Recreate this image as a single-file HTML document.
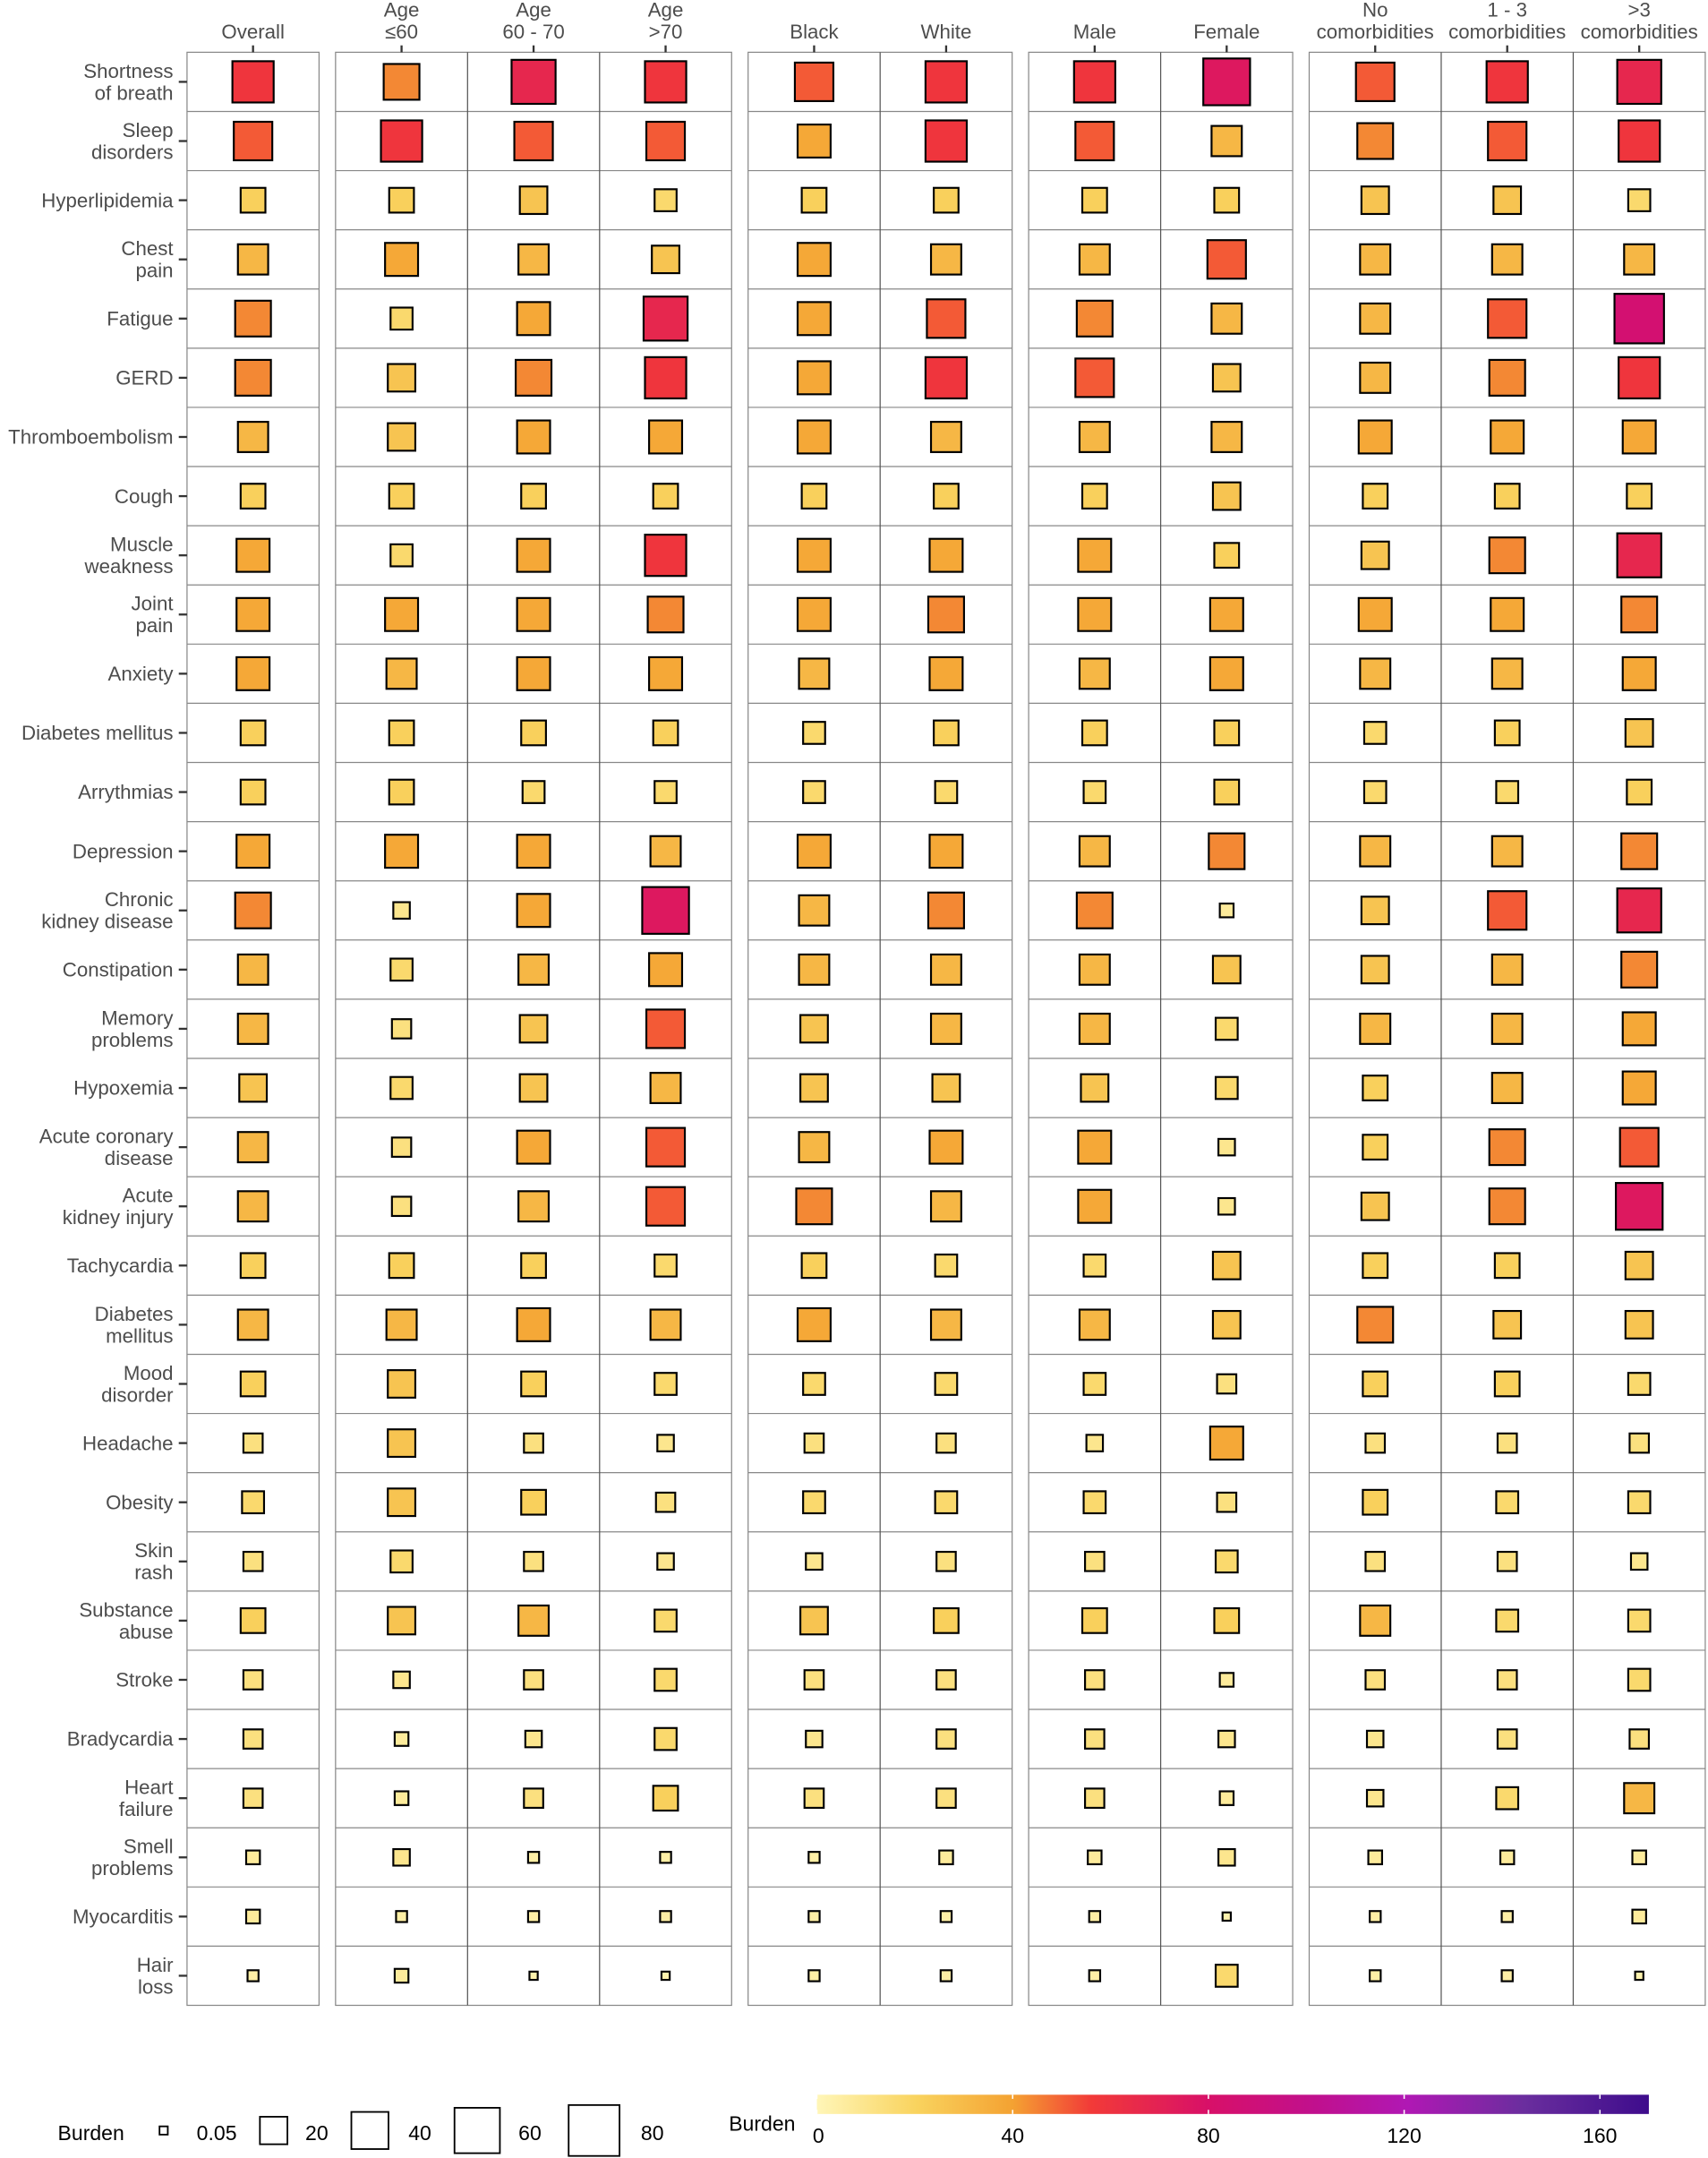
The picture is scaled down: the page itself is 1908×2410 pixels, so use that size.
<!DOCTYPE html>
<html><head><meta charset="utf-8"><style>
html,body{margin:0;padding:0;background:#fff}
svg{display:block}
text{font-family:"Liberation Sans",Arial,sans-serif;fill:#4d4d4d}
</style></head><body>
<svg id="s" width="1908" height="2410" viewBox="0 0 1242 1569" preserveAspectRatio="none" xmlns="http://www.w3.org/2000/svg">
<defs>
<linearGradient id="g" x1="0" x2="1" y1="0" y2="0">
<stop offset="0" stop-color="#FFF6B8"/>
<stop offset="0.12" stop-color="#F9D35E"/>
<stop offset="0.235" stop-color="#F4A232"/>
<stop offset="0.33" stop-color="#F23A38"/>
<stop offset="0.47" stop-color="#D81068"/>
<stop offset="0.6" stop-color="#C0108E"/>
<stop offset="0.71" stop-color="#B018B4"/>
<stop offset="0.85" stop-color="#6A2E9E"/>
<stop offset="1" stop-color="#3E0C8C"/>
</linearGradient>
</defs>
<g id="root"></g>
</svg>
<script>
(function(){
var rows=[
["Shortness","of breath"],["Sleep","disorders"],["Hyperlipidemia"],["Chest","pain"],["Fatigue"],["GERD"],["Thromboembolism"],["Cough"],["Muscle","weakness"],["Joint","pain"],["Anxiety"],["Diabetes mellitus"],["Arrythmias"],["Depression"],["Chronic","kidney disease"],["Constipation"],["Memory","problems"],["Hypoxemia"],["Acute coronary","disease"],["Acute","kidney injury"],["Tachycardia"],["Diabetes","mellitus"],["Mood","disorder"],["Headache"],["Obesity"],["Skin","rash"],["Substance","abuse"],["Stroke"],["Bradycardia"],["Heart","failure"],["Smell","problems"],["Myocarditis"],["Hair","loss"]];
var S=[
[30,26,32,30,28,30,30,34,28,30,32],
[28,30,28,28,24,30,28,22,26,28,30],
[18,18,20,16,18,18,18,18,20,20,16],
[22,24,22,20,24,22,22,28,22,22,22],
[26,16,24,32,24,28,26,22,22,28,36],
[26,20,26,30,24,30,28,20,22,26,30],
[22,20,24,24,24,22,22,22,24,24,24],
[18,18,18,18,18,18,18,20,18,18,18],
[24,16,24,30,24,24,24,18,20,26,32],
[24,24,24,26,24,26,24,24,24,24,26],
[24,22,24,24,22,24,22,24,22,22,24],
[18,18,18,18,16,18,18,18,16,18,20],
[18,18,16,16,16,16,16,18,16,16,18],
[24,24,24,22,24,24,22,26,22,22,26],
[26,12,24,34,22,26,26,10,20,28,32],
[22,16,22,24,22,22,22,20,20,22,26],
[22,14,20,28,20,22,22,16,22,22,24],
[20,16,20,22,20,20,20,16,18,22,24],
[22,14,24,28,22,24,24,12,18,26,28],
[22,14,22,28,26,22,24,12,20,26,34],
[18,18,18,16,18,16,16,20,18,18,20],
[22,22,24,22,24,22,22,20,26,20,20],
[18,20,18,16,16,16,16,14,18,18,16],
[14,20,14,12,14,14,12,24,14,14,14],
[16,20,18,14,16,16,16,14,18,16,16],
[14,16,14,12,12,14,14,16,14,14,12],
[18,20,22,16,20,18,18,18,22,16,16],
[14,12,14,16,14,14,14,10,14,14,16],
[14,10,12,16,12,14,14,12,12,14,14],
[14,10,14,18,14,14,14,10,12,16,22],
[10,12,8,8,8,10,10,12,10,10,10],
[10,8,8,8,8,8,8,6,8,8,10],
[8,10,6,6,8,8,8,16,8,8,6]];
var stops=[[0,[255,246,184]],[20,[249,211,94]],[40,[244,162,50]],[56,[242,58,56]],[80,[216,16,104]],[100,[192,16,142]],[120,[176,24,180]],[145,[106,46,158]],[170,[62,12,140]]];
function col(v){for(var i=1;i<stops.length;i++){if(v<=stops[i][0]){var a=stops[i-1],b=stops[i],t=(v-a[0])/(b[0]-a[0]);return "rgb("+a[1].map(function(c,k){return Math.round(c+(b[1][k]-c)*t)}).join(",")+")";}}return "rgb(62,12,140)";}
var cols=[184,292,388,484,592,688,796,892,1000,1096,1192];
var panels=[[136,232,[]],[244,532,[340,436]],[544,736,[640]],[748,940,[844]],[952,1240,[1048,1144]]];
var heads=[["Overall"],["Age","≤60"],["Age","60 - 70"],["Age",">70"],["Black"],["White"],["Male"],["Female"],["No","comorbidities"],["1 - 3","comorbidities"],[">3","comorbidities"]];
var T0=38,B0=1458,rh=(B0-T0)/33,h="";
panels.forEach(function(p){
 h+='<rect x="'+p[0]+'" y="'+T0+'" width="'+(p[1]-p[0])+'" height="'+(B0-T0)+'" fill="#fff" stroke="#888" stroke-width="0.8"/>';
 for(var r=1;r<33;r++){var y=T0+r*rh;h+='<line x1="'+p[0]+'" x2="'+p[1]+'" y1="'+y+'" y2="'+y+'" stroke="#888" stroke-width="0.8"/>';}
 p[2].forEach(function(x){h+='<line x1="'+x+'" x2="'+x+'" y1="'+T0+'" y2="'+B0+'" stroke="#555" stroke-width="0.8"/>';});
});
heads.forEach(function(t,i){var x=cols[i];
 h+='<line x1="'+x+'" x2="'+x+'" y1="33" y2="38" stroke="#333" stroke-width="1.5"/>';
 if(t.length==1)h+='<text x="'+x+'" y="28" font-size="14.5" text-anchor="middle">'+t[0]+'</text>';
 else h+='<text x="'+x+'" y="12" font-size="14.5" text-anchor="middle">'+t[0]+'</text><text x="'+x+'" y="28" font-size="14.5" text-anchor="middle">'+t[1]+'</text>';
});
rows.forEach(function(t,r){var cy=T0+(r+0.5)*rh;
 h+='<line x1="130" x2="136" y1="'+cy+'" y2="'+cy+'" stroke="#333" stroke-width="1.5"/>';
 if(t.length==1)h+='<text x="126" y="'+(cy+5)+'" font-size="14.5" text-anchor="end">'+t[0]+'</text>';
 else h+='<text x="126" y="'+(cy-3)+'" font-size="14.5" text-anchor="end">'+t[0]+'</text><text x="126" y="'+(cy+13)+'" font-size="14.5" text-anchor="end">'+t[1]+'</text>';
 S[r].forEach(function(s,c){var v=Math.pow(s/4.2,2)*1.15;
  h+='<rect x="'+(cols[c]-s/2)+'" y="'+(cy-s/2)+'" width="'+s+'" height="'+s+'" fill="'+col(v)+'" stroke="#000" stroke-width="1.4"/>';});
});
h+='<text x="42" y="1556" font-size="15" style="fill:#000">Burden</text>';
[[119,6,"0.05",143],[199,20,"20",222],[269,27,"40",297],[347,33,"60",377],[432,37,"80",466]].forEach(function(l){
 h+='<rect x="'+(l[0]-l[1]/2)+'" y="'+(1549-l[1]/2)+'" width="'+l[1]+'" height="'+l[1]+'" fill="#fff" stroke="#000" stroke-width="1.2"/>';
 h+='<text x="'+l[3]+'" y="1556" font-size="15" style="fill:#000">'+l[2]+'</text>';});
h+='<text x="530" y="1549" font-size="15" style="fill:#000">Burden</text>';
h+='<rect x="594" y="1523" width="605" height="14" fill="url(#g)"/>';
[[0,"0"],[40,"40"],[80,"80"],[120,"120"],[160,"160"]].forEach(function(t){var x=594+t[0]*605/170;
 h+='<line x1="'+x+'" x2="'+x+'" y1="1523" y2="1526" stroke="#fff"/><line x1="'+x+'" x2="'+x+'" y1="1534" y2="1537" stroke="#fff"/>';
 h+='<text x="'+(t[0]==0?x-3:x)+'" y="1558" font-size="15" text-anchor="'+(t[0]==0?"start":"middle")+'" style="fill:#000">'+t[1]+'</text>';});
document.getElementById("root").innerHTML=h;
})();
</script>
</body></html>
